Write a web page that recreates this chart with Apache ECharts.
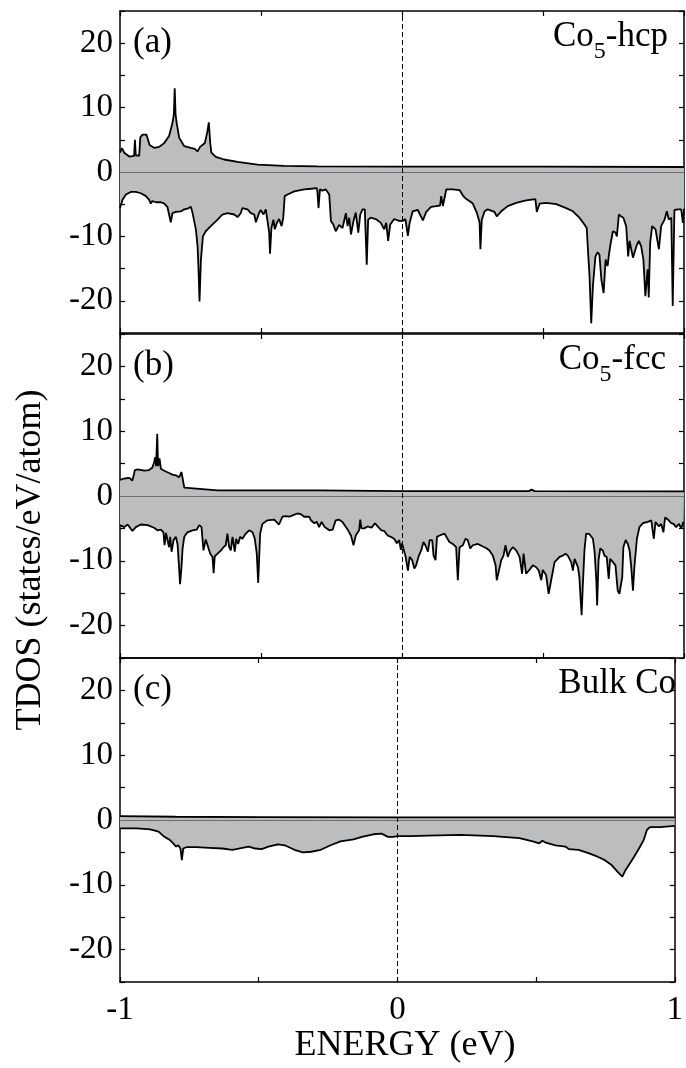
<!DOCTYPE html>
<html><head><meta charset="utf-8">
<script src="https://cdn.jsdelivr.net/npm/echarts@6/dist/echarts.min.js"></script>
<style>html,body{margin:0;padding:0;background:#fff}#c{width:686px;height:1068px}</style>
</head><body><div id="c"></div>
<script>
// ---------------- DATA ----------------
const xTickValues = [-1, -0.5, 0, 0.5, 1];
const xTickLabels = ['-1', '', '0', '', '1'];
const yTickValues = [-20, -10, 0, 10, 20];
const yTickLabels = ['-20', '-10', '0', '10', '20'];
const panelLetters = ['(a)', '(b)', '(c)'];
const panelNames = [['Co', '5', '-hcp'], ['Co', '5', '-fcc'], ['Bulk Co', '', '']];
const xAxisTitle = 'ENERGY (eV)';
const yAxisTitle = 'TDOS (states/eV/atom)';

// Co5-hcp majority (up) and minority (down)
const hcpUp = [[-1.0,3.0],[-0.993,3.7],[-0.985,3.0],[-0.967,2.4],[-0.950,2.5],[-0.947,5.0],[-0.944,2.6],[-0.932,2.5],[-0.928,5.4],[-0.920,5.8],[-0.913,6.0],[-0.906,5.8],[-0.900,5.6],[-0.895,4.2],[-0.891,3.9],[-0.879,3.75],[-0.861,3.9],[-0.843,4.5],[-0.826,5.6],[-0.814,7.6],[-0.809,9.0],[-0.806,13.0],[-0.803,9.0],[-0.799,7.6],[-0.790,5.3],[-0.772,4.0],[-0.749,3.75],[-0.735,3.6],[-0.725,3.2],[-0.716,3.9],[-0.699,4.5],[-0.690,6.3],[-0.685,7.7],[-0.680,4.5],[-0.676,3.0],[-0.660,2.35],[-0.631,1.94],[-0.583,1.58],[-0.512,1.16],[-0.418,0.95],[-0.300,0.88],[0.0,0.85],[0.5,0.82],[1.0,0.78]];
const hcpDown = [[-1.0,-5.6],[-0.991,-4.3],[-0.979,-3.5],[-0.962,-3.1],[-0.944,-3.1],[-0.926,-3.3],[-0.908,-3.75],[-0.897,-4.3],[-0.891,-4.9],[-0.885,-4.5],[-0.873,-4.7],[-0.855,-4.7],[-0.843,-4.9],[-0.832,-5.4],[-0.820,-7.8],[-0.814,-6.4],[-0.802,-6.2],[-0.784,-6.1],[-0.772,-5.8],[-0.761,-5.7],[-0.749,-5.4],[-0.743,-6.3],[-0.737,-6.4],[-0.731,-8.9],[-0.725,-11.5],[-0.722,-14.6],[-0.718,-20.1],[-0.713,-13.6],[-0.706,-10.0],[-0.696,-9.2],[-0.678,-8.4],[-0.654,-7.4],[-0.637,-6.6],[-0.619,-6.4],[-0.595,-6.6],[-0.583,-7.0],[-0.572,-6.4],[-0.566,-5.6],[-0.548,-5.8],[-0.536,-6.4],[-0.524,-6.6],[-0.518,-7.8],[-0.507,-6.4],[-0.501,-5.9],[-0.491,-6.6],[-0.483,-5.8],[-0.477,-7.6],[-0.471,-9.4],[-0.468,-12.7],[-0.463,-8.7],[-0.456,-7.4],[-0.451,-8.9],[-0.444,-7.9],[-0.436,-7.3],[-0.427,-8.4],[-0.421,-7.1],[-0.416,-3.75],[-0.406,-3.5],[-0.382,-3.0],[-0.347,-2.7],[-0.323,-2.6],[-0.302,-2.5],[-0.300,-3.0],[-0.296,-5.6],[-0.291,-2.7],[-0.282,-2.9],[-0.270,-2.7],[-0.258,-3.5],[-0.252,-7.6],[-0.243,-8.2],[-0.235,-9.2],[-0.223,-8.2],[-0.211,-8.7],[-0.199,-6.4],[-0.193,-8.4],[-0.187,-7.1],[-0.181,-9.7],[-0.172,-7.6],[-0.164,-6.3],[-0.155,-9.4],[-0.148,-6.6],[-0.140,-5.8],[-0.132,-5.8],[-0.125,-14.4],[-0.120,-7.4],[-0.111,-7.1],[-0.093,-7.3],[-0.075,-7.9],[-0.063,-8.9],[-0.056,-7.9],[-0.049,-10.7],[-0.042,-8.2],[-0.028,-7.3],[-0.010,-7.6],[0.003,-7.6],[0.012,-7.3],[0.021,-9.9],[0.027,-7.9],[0.038,-6.1],[0.056,-5.9],[0.074,-7.5],[0.086,-6.2],[0.103,-5.4],[0.121,-5.3],[0.135,-5.2],[0.139,-3.75],[0.145,-5.3],[0.151,-4.0],[0.157,-2.7],[0.180,-2.7],[0.204,-2.8],[0.216,-3.65],[0.228,-4.2],[0.239,-4.5],[0.251,-4.9],[0.265,-6.3],[0.275,-7.8],[0.278,-12.0],[0.283,-7.4],[0.293,-6.1],[0.304,-5.8],[0.328,-6.2],[0.336,-6.9],[0.352,-6.1],[0.375,-5.3],[0.405,-4.8],[0.440,-4.4],[0.473,-4.2],[0.478,-6.2],[0.488,-4.9],[0.511,-4.8],[0.547,-5.0],[0.582,-5.6],[0.606,-6.1],[0.629,-7.1],[0.647,-8.15],[0.655,-8.7],[0.660,-12.55],[0.665,-16.2],[0.671,-23.5],[0.677,-17.7],[0.686,-13.1],[0.694,-12.45],[0.700,-12.8],[0.707,-16.7],[0.715,-18.8],[0.722,-13.6],[0.729,-14.6],[0.733,-13.1],[0.739,-11.3],[0.748,-9.2],[0.757,-9.4],[0.762,-10.0],[0.769,-6.6],[0.777,-6.9],[0.785,-7.1],[0.795,-8.4],[0.802,-13.1],[0.807,-10.7],[0.819,-13.3],[0.824,-13.6],[0.833,-11.3],[0.840,-10.7],[0.848,-11.5],[0.856,-13.6],[0.863,-19.3],[0.871,-15.1],[0.875,-19.5],[0.880,-11.0],[0.887,-8.4],[0.899,-8.9],[0.911,-12.0],[0.919,-8.4],[0.931,-7.4],[0.939,-6.1],[0.946,-7.4],[0.955,-7.1],[0.960,-20.8],[0.966,-5.9],[0.978,-5.8],[0.990,-5.8],[0.996,-7.9],[1.0,-5.7]];

// Co5-fcc
const fccUp = [[-1.0,2.5],[-0.985,2.7],[-0.967,2.8],[-0.956,2.4],[-0.947,4.0],[-0.938,4.1],[-0.932,3.9],[-0.914,3.9],[-0.897,4.0],[-0.885,4.4],[-0.879,5.2],[-0.875,6.0],[-0.872,4.6],[-0.868,9.6],[-0.865,4.6],[-0.860,5.8],[-0.855,4.2],[-0.843,3.9],[-0.826,3.55],[-0.814,3.3],[-0.802,3.2],[-0.796,3.45],[-0.790,2.9],[-0.782,3.7],[-0.776,3.7],[-0.772,1.3],[-0.767,1.0],[-0.654,0.87],[-0.300,0.87],[0.0,0.75],[0.45,0.75],[0.46,1.0],[0.47,0.75],[1.0,0.72]];
const fccDown = [[-1.0,-4.5],[-0.985,-4.8],[-0.973,-4.4],[-0.956,-5.4],[-0.944,-4.8],[-0.926,-4.4],[-0.902,-4.5],[-0.879,-4.9],[-0.867,-5.3],[-0.855,-5.2],[-0.846,-5.6],[-0.842,-7.6],[-0.837,-5.7],[-0.832,-5.8],[-0.826,-7.9],[-0.822,-6.3],[-0.817,-8.6],[-0.810,-6.8],[-0.802,-6.3],[-0.796,-7.4],[-0.790,-11.4],[-0.787,-13.6],[-0.782,-11.0],[-0.778,-8.1],[-0.772,-6.3],[-0.761,-5.6],[-0.743,-5.3],[-0.728,-5.2],[-0.719,-4.5],[-0.711,-4.8],[-0.704,-8.4],[-0.696,-6.7],[-0.690,-6.8],[-0.680,-8.9],[-0.672,-9.4],[-0.668,-11.9],[-0.664,-9.3],[-0.654,-8.9],[-0.642,-8.4],[-0.633,-7.9],[-0.625,-7.6],[-0.619,-5.8],[-0.613,-7.9],[-0.607,-8.4],[-0.601,-6.3],[-0.593,-8.6],[-0.588,-6.6],[-0.581,-7.4],[-0.574,-6.3],[-0.566,-6.6],[-0.554,-5.8],[-0.542,-5.3],[-0.530,-5.6],[-0.522,-6.6],[-0.515,-8.9],[-0.510,-13.4],[-0.503,-5.8],[-0.495,-4.3],[-0.477,-3.75],[-0.453,-3.65],[-0.436,-4.4],[-0.424,-3.2],[-0.412,-3.1],[-0.400,-3.2],[-0.388,-3.0],[-0.371,-2.7],[-0.359,-2.8],[-0.347,-3.2],[-0.329,-3.2],[-0.323,-3.75],[-0.311,-4.2],[-0.302,-4.0],[-0.294,-4.8],[-0.285,-4.0],[-0.274,-4.8],[-0.258,-5.3],[-0.246,-5.2],[-0.235,-3.75],[-0.223,-3.65],[-0.211,-4.0],[-0.199,-4.8],[-0.191,-5.3],[-0.181,-6.1],[-0.172,-7.6],[-0.164,-6.1],[-0.152,-5.3],[-0.148,-3.65],[-0.144,-5.0],[-0.134,-5.0],[-0.122,-4.7],[-0.108,-4.9],[-0.096,-4.2],[-0.084,-4.8],[-0.073,-5.3],[-0.063,-5.4],[-0.051,-6.1],[-0.040,-6.3],[-0.028,-6.6],[-0.018,-7.3],[-0.010,-6.8],[-0.004,-8.3],[0.0,-7.3],[0.005,-7.6],[0.012,-9.2],[0.021,-11.5],[0.027,-9.4],[0.036,-9.9],[0.044,-11.2],[0.050,-10.7],[0.060,-9.2],[0.068,-8.4],[0.076,-7.1],[0.083,-7.6],[0.092,-8.6],[0.098,-6.8],[0.107,-6.8],[0.112,-9.2],[0.119,-9.9],[0.124,-6.3],[0.133,-6.1],[0.151,-5.8],[0.168,-7.1],[0.180,-7.4],[0.192,-7.9],[0.198,-13.0],[0.204,-7.9],[0.216,-7.6],[0.225,-6.6],[0.233,-6.8],[0.242,-8.1],[0.251,-7.6],[0.269,-7.4],[0.287,-7.8],[0.301,-8.1],[0.310,-8.4],[0.322,-9.2],[0.332,-10.7],[0.336,-13.0],[0.343,-13.3],[0.352,-9.9],[0.360,-9.2],[0.367,-7.6],[0.375,-9.4],[0.384,-8.4],[0.393,-7.9],[0.405,-8.4],[0.417,-9.4],[0.426,-12.0],[0.431,-8.9],[0.440,-12.0],[0.450,-11.5],[0.464,-10.7],[0.476,-11.0],[0.485,-11.5],[0.494,-13.0],[0.499,-11.4],[0.511,-12.2],[0.520,-15.1],[0.529,-13.0],[0.541,-10.2],[0.559,-9.4],[0.570,-9.2],[0.580,-8.9],[0.588,-9.2],[0.600,-10.2],[0.606,-11.5],[0.612,-9.7],[0.624,-11.0],[0.629,-12.5],[0.633,-15.6],[0.637,-18.4],[0.641,-14.0],[0.647,-8.4],[0.653,-5.8],[0.665,-5.9],[0.677,-6.6],[0.683,-8.6],[0.689,-13.0],[0.692,-16.9],[0.697,-9.9],[0.703,-8.1],[0.712,-8.4],[0.718,-9.2],[0.726,-9.4],[0.733,-12.8],[0.738,-9.7],[0.748,-10.2],[0.757,-10.7],[0.765,-14.6],[0.771,-15.1],[0.777,-15.3],[0.781,-12.5],[0.785,-7.9],[0.793,-6.8],[0.801,-7.4],[0.807,-8.4],[0.813,-11.0],[0.819,-14.6],[0.824,-11.0],[0.833,-6.6],[0.842,-4.8],[0.854,-4.2],[0.872,-4.0],[0.884,-3.75],[0.889,-3.5],[0.893,-6.6],[0.899,-4.0],[0.911,-4.7],[0.919,-4.3],[0.927,-5.6],[0.933,-3.3],[0.946,-3.75],[0.955,-4.2],[0.963,-4.3],[0.972,-4.8],[0.982,-4.3],[0.990,-5.0],[0.998,-4.0],[1.0,-4.0]];

// Bulk Co
const bulkUp = [[-1.0,0.6],[-0.8,0.5],[-0.5,0.45],[0.0,0.4],[1.0,0.4]];
const bulkDown = [[-1.0,-1.3],[-0.938,-1.3],[-0.891,-1.45],[-0.861,-1.8],[-0.843,-2.5],[-0.820,-3.1],[-0.808,-3.6],[-0.798,-4.1],[-0.790,-3.9],[-0.782,-4.4],[-0.777,-6.2],[-0.772,-4.4],[-0.761,-4.2],[-0.725,-4.2],[-0.678,-4.3],[-0.631,-4.4],[-0.595,-4.6],[-0.572,-4.4],[-0.536,-4.1],[-0.512,-4.4],[-0.489,-4.5],[-0.465,-4.1],[-0.430,-3.75],[-0.406,-3.9],[-0.371,-4.6],[-0.341,-5.0],[-0.311,-4.9],[-0.276,-4.6],[-0.241,-3.9],[-0.205,-3.3],[-0.158,-3.0],[-0.128,-2.6],[-0.087,-2.2],[-0.057,-2.1],[-0.034,-2.6],[-0.016,-2.6],[0.0,-2.5],[0.050,-2.5],[0.109,-2.4],[0.228,-2.3],[0.346,-2.5],[0.440,-2.8],[0.488,-3.3],[0.511,-3.6],[0.523,-3.2],[0.535,-3.5],[0.570,-3.9],[0.606,-4.1],[0.618,-4.5],[0.653,-4.6],[0.689,-5.1],[0.724,-5.7],[0.748,-6.2],[0.771,-6.9],[0.794,-8.0],[0.811,-8.75],[0.823,-7.7],[0.853,-5.7],[0.871,-4.4],[0.888,-3.1],[0.900,-1.5],[0.911,-1.1],[0.947,-1.1],[1.0,-0.9]];

const upSeries = [hcpUp, fccUp, bulkUp];
const downSeries = [hcpDown, fccDown, bulkDown];

// ---------------- LAYOUT / STYLE ----------------
const FONT = '"Liberation Serif", "Times New Roman", serif';
const gridTops = [11, 334, 658];
const gridHeights = [322, 324, 324];
const GL = 120, GW = 564;

const axisLine = { onZero: false, lineStyle: { color: '#000', width: 1.5 } };
const tick = { inside: true, length: 5, lineStyle: { color: '#000', width: 1.2 } };

const grid = [], xAxis = [], yAxis = [], series = [];
for (let i = 0; i < 3; i++) {
  grid.push({ left: GL, width: GW, top: gridTops[i], height: gridHeights[i] });
}
for (let i = 0; i < 3; i++) {
  xAxis.push({
    gridIndex: i, type: 'value', min: -1, max: 1, interval: 0.5, position: 'bottom',
    axisLine, axisTick: tick, splitLine: { show: false },
    axisLabel: {
      show: i === 2, margin: 12, color: '#000', fontFamily: FONT, fontSize: 33,
      formatter: v => { const k = xTickValues.findIndex(t => Math.abs(t - v) < 1e-9); return k >= 0 ? xTickLabels[k] : ''; }
    }
  });
}
for (let i = 0; i < 3; i++) {
  xAxis.push({
    gridIndex: i, type: 'value', min: -1, max: 1, interval: 0.5, position: 'top',
    axisLine, axisTick: tick, splitLine: { show: false }, axisLabel: { show: false }
  });
}
for (let i = 0; i < 3; i++) {
  yAxis.push({
    gridIndex: i, type: 'value', min: -25, max: 25, interval: 5, position: 'left',
    axisLine, axisTick: tick, splitLine: { show: false },
    axisLabel: {
      margin: 7, color: '#000', fontFamily: FONT, fontSize: 33,
      formatter: v => { const k = yTickValues.indexOf(v); return k >= 0 ? yTickLabels[k] : ''; }
    }
  });
}
for (let i = 0; i < 3; i++) {
  yAxis.push({
    gridIndex: i, type: 'value', min: -25, max: 25, interval: 5, position: 'right',
    axisLine, axisTick: tick, splitLine: { show: false }, axisLabel: { show: false }
  });
}

function mkSeries(i, data, marks) {
  const s = {
    type: 'line', xAxisIndex: i, yAxisIndex: i, data: data,
    showSymbol: false, symbol: 'none', animation: false, silent: true,
    lineStyle: { color: '#000', width: 1.8 },
    areaStyle: { color: '#bcbdbf', opacity: 1 }
  };
  if (marks) {
    s.markLine = {
      silent: true, symbol: ['none', 'none'], label: { show: false }, animation: false,
      data: [
        { yAxis: 0, lineStyle: { color: '#6e6e6e', width: 1, type: 'solid' } },
        { xAxis: 0, lineStyle: { color: '#000', width: 1, type: [5, 3] } }
      ]
    };
  }
  return s;
}
for (let i = 0; i < 3; i++) {
  series.push(mkSeries(i, downSeries[i], false));
  series.push(mkSeries(i, upSeries[i], true));
}

// text measuring for sub-scripted labels
const mctx = document.createElement('canvas').getContext('2d');
function tw(text, size) { mctx.font = size + 'px "Liberation Serif"'; return mctx.measureText(text).width; }
function txt(text, x, y, size, align) {
  return { type: 'text', x: x, y: y, silent: true,
    style: { text: text, fill: '#000', fontFamily: FONT, fontSize: size, align: align, verticalAlign: 'middle' } };
}
const graphic = [];
const letterY = [42.5, 366, 690];
const nameRight = [668, 666, 676];
const nameY = [37, 360, 684];
const subY = [51.5, 375, 698];
const MAIN = 35, SUB = 24;
for (let i = 0; i < 3; i++) {
  graphic.push(txt(panelLetters[i], 133, letterY[i], MAIN, 'left'));
  const [a, b, c] = panelNames[i];
  let x = nameRight[i];
  if (c) { graphic.push(txt(c, x, nameY[i], MAIN, 'right')); x -= tw(c, MAIN); }
  if (b) { graphic.push(txt(b, x, subY[i], SUB, 'right')); x -= tw(b, SUB); }
  graphic.push(txt(a, x, nameY[i], MAIN, 'right'));
}
graphic.push(txt(xAxisTitle, 405, 1046, 36, 'center'));
const yt = txt(yAxisTitle, 31, 560, 36, 'center');
yt.rotation = Math.PI / 2;
graphic.push(yt);

const chart = echarts.init(document.getElementById('c'), null, { renderer: 'canvas' });
chart.setOption({ animation: false, backgroundColor: '#fff', grid, xAxis, yAxis, series, graphic });
</script>
</body></html>
